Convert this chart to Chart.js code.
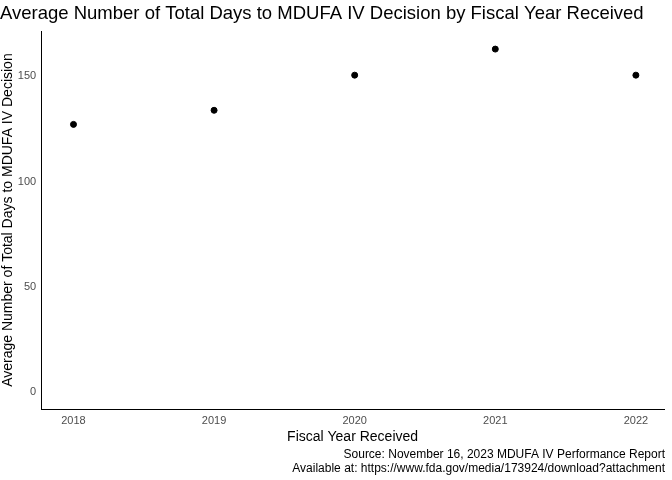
<!DOCTYPE html>
<html>
<head>
<script src="https://cdn.jsdelivr.net/npm/chart.js@4"></script>
<style>
body { margin: 0; background: #fff; }
#wrap { width: 672px; height: 480px; position: relative; }
</style>
</head>
<body>
<div id="wrap"><canvas id="myChart" width="672" height="480"></canvas></div>
<script>
const years = [2018, 2019, 2020, 2021, 2022];
const avgDays = [127.2, 133.9, 150.6, 163.0, 150.6];
const yTicks = [0, 50, 100, 150];

const ctx = document.getElementById('myChart').getContext('2d');

// caption lines at bottom right, like a ggplot caption
const caption = {
  id: 'caption',
  afterDraw(chart) {
    const c = chart.ctx;
    c.save();
    c.fillStyle = '#000';
    c.font = '12px "Liberation Sans", Arial, sans-serif';
    c.textAlign = 'right';
    c.textBaseline = 'alphabetic';
    c.fillText('Source: November 16, 2023 MDUFA IV Performance Report', 665, 458);
    c.fillText('Available at: https://www.fda.gov/media/173924/download?attachment', 665, 472);
    c.restore();
  }
};

new Chart(ctx, {
  type: 'scatter',
  data: {
    datasets: [{
      data: years.map((y, i) => ({ x: y, y: avgDays[i] })),
      backgroundColor: '#000',
      borderColor: '#000',
      pointRadius: 3,
    }]
  },
  options: {
    responsive: false,
    animation: false,
    layout: { padding: { left: 0, right: 8, top: 0, bottom: 30 } },
    plugins: {
      legend: { display: false },
      tooltip: { enabled: false },
      title: {
        display: true,
        text: 'Average Number of Total Days to MDUFA IV Decision by Fiscal Year Received',
        color: '#000',
        font: { size: 18.5, family: '"Liberation Sans", Arial, sans-serif', weight: 'normal' },
        align: 'start',
        padding: { top: 3, bottom: 6 }
      }
    },
    scales: {
      x: {
        type: 'linear',
        min: 2017.77, max: 2022.2,
        afterBuildTicks: (axis) => { axis.ticks = years.map(v => ({ value: v })); },
        ticks: { color: '#4d4d4d', font: { size: 11, family: '"Liberation Sans", Arial' }, callback: v => String(v), padding: 1 },
        grid: { display: false, drawTicks: true, tickLength: 4, tickColor: '#333' },
        border: { color: '#000', width: 1 },
        title: { display: true, text: 'Fiscal Year Received', color: '#000', font: { size: 14, family: '"Liberation Sans", Arial' }, padding: { top: 1 } }
      },
      y: {
        min: -8.1, max: 171.5,
        afterBuildTicks: (axis) => { axis.ticks = yTicks.map(v => ({ value: v })); },
        ticks: { color: '#4d4d4d', font: { size: 11, family: '"Liberation Sans", Arial' }, padding: 1 },
        grid: { display: false, drawTicks: true, tickLength: 4, tickColor: '#333' },
        border: { color: '#000', width: 1 },
        title: { display: true, text: 'Average Number of Total Days to MDUFA IV Decision', color: '#000', font: { size: 14, family: '"Liberation Sans", Arial' }, padding: { top: 0, bottom: 0 } }
      }
    }
  },
  plugins: [caption]
});
</script>
</body>
</html>
